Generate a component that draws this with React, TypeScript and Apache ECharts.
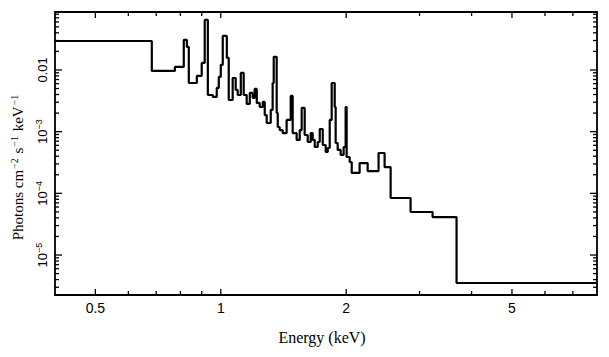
import React, { useEffect, useRef } from 'react';
import * as echarts from 'echarts';

// Axis ranges (keV, photons cm^-2 s^-1 keV^-1)
const X_MIN = 0.4;
const X_MAX = 8.0;
const Y_MIN = 2.25e-6;
const Y_MAX = 0.087;

// Bin edges (keV): left edges of every bin plus the final right edge
const binEdges = [
  0.400, 0.683, 0.776, 0.815, 0.829, 0.838, 0.876, 0.900, 0.915, 0.931,
  0.957, 0.978, 0.989, 1.000, 1.011, 1.034, 1.045, 1.068, 1.086, 1.098,
  1.117, 1.135, 1.154, 1.174, 1.193, 1.206, 1.220, 1.240, 1.261, 1.275,
  1.289, 1.318, 1.332, 1.340, 1.362, 1.370, 1.385, 1.408, 1.439, 1.472,
  1.488, 1.521, 1.547, 1.564, 1.590, 1.617, 1.644, 1.662, 1.681, 1.709,
  1.728, 1.757, 1.786, 1.806, 1.826, 1.846, 1.877, 1.887, 1.908, 1.940,
  1.972, 1.994, 2.005, 2.039, 2.062, 2.154, 2.252, 2.392, 2.473, 2.557,
  2.855, 3.224, 3.681, 8.0,
];

// Model flux in each bin
const binFlux = [
  0.0295, 0.00964, 0.0112, 0.0307, 0.0236, 0.00615, 0.0080, 0.0130, 0.0647, 0.00393,
  0.00365, 0.00511, 0.0077, 0.0121, 0.0356, 0.0157, 0.00326, 0.00741, 0.00474, 0.00393,
  0.00894, 0.00393, 0.00281, 0.00424, 0.00352, 0.00492, 0.00292, 0.00251, 0.00303, 0.00186,
  0.00138, 0.00225, 0.00615, 0.0163, 0.00201, 0.00119, 0.00106, 0.00095, 0.00155, 0.00379,
  0.00095, 0.000733, 0.00106, 0.00242, 0.000883, 0.00068, 0.00095, 0.000733, 0.000564, 0.00068,
  0.0011, 0.000608, 0.000468, 0.000543, 0.00155, 0.00615, 0.00251, 0.000655, 0.000505, 0.000419,
  0.000564, 0.00251, 0.000388, 0.000322, 0.000214, 0.00031, 0.00023, 0.000451, 0.000267, 8.41e-5,
  4.98e-5, 4.13e-5, 3.52e-6,
];

// Tick definitions
const xMajorTicks = [0.5, 1, 2, 5];
const xTickLabels = ['0.5', '1', '2', '5'];
const xMinorTicks = [0.6, 0.7, 0.8, 0.9, 3, 4, 6, 7];

const yMajorTicks = [1e-5, 1e-4, 1e-3, 1e-2];
const yTickBases = ['10', '10', '10', '0.01'];
const yTickExponents = ['−5', '−4', '−3', ''];
const yMinorMultipliers = [2, 3, 4, 5, 6, 7, 8, 9];
const yDecades = [1e-6, 1e-5, 1e-4, 1e-3, 1e-2];

const X_TITLE = 'Energy (keV)';
const Y_TITLE_PARTS = ['Photons cm', '−2', ' s', '−1', ' keV', '−1'];

const SANS = '"Liberation Sans", Arial, Helvetica, sans-serif';
const SERIF = '"Liberation Serif", "Times New Roman", Times, serif';

export default function App() {
  const ref = useRef<HTMLDivElement>(null);

  useEffect(() => {
    if (!ref.current) return;
    const chart = echarts.init(ref.current, undefined, { renderer: 'svg' });

    const stepData: number[][] = binFlux.map((f, i) => [binEdges[i], f]);
    stepData.push([binEdges[binEdges.length - 1], binFlux[binFlux.length - 1]]);

    const xTickItems = [
      ...xMajorTicks.map((v, i) => ({ v, major: true, label: xTickLabels[i] })),
      ...xMinorTicks.map((v) => ({ v, major: false, label: '' })),
    ];

    const yTickItems: { v: number; major: boolean; base: string; exp: string }[] = [];
    yMajorTicks.forEach((v, i) =>
      yTickItems.push({ v, major: true, base: yTickBases[i], exp: yTickExponents[i] })
    );
    yDecades.forEach((d) =>
      yMinorMultipliers.forEach((m) => {
        const v = d * m;
        if (v > Y_MIN && v < Y_MAX) yTickItems.push({ v, major: false, base: '', exp: '' });
      })
    );

    const tickStyle = { stroke: '#000', lineWidth: 1.3 };

    const yTitleRich = Y_TITLE_PARTS.map((p, i) => (i % 2 === 0 ? `{t|${p}}` : `{s|${p}}`)).join('');

    chart.setOption({
      animation: false,
      backgroundColor: '#fff',
      grid: {
        left: 55,
        right: 12,
        top: 12,
        bottom: 62,
        show: true,
        borderColor: '#000',
        borderWidth: 1.8,
        backgroundColor: 'transparent',
      },
      xAxis: {
        type: 'log',
        logBase: 10,
        min: X_MIN,
        max: X_MAX,
        axisLine: { show: false },
        axisTick: { show: false },
        axisLabel: { show: false },
        splitLine: { show: false },
      },
      yAxis: {
        type: 'log',
        logBase: 10,
        min: Y_MIN,
        max: Y_MAX,
        axisLine: { show: false },
        axisTick: { show: false },
        axisLabel: { show: false },
        splitLine: { show: false },
      },
      graphic: [
        {
          type: 'text',
          x: 322,
          y: 337,
          style: {
            text: X_TITLE,
            fill: '#000',
            fontSize: 16,
            fontFamily: SERIF,
            align: 'center',
            verticalAlign: 'middle',
          },
        },
        {
          type: 'text',
          x: 18,
          y: 167,
          rotation: Math.PI / 2,
          style: {
            text: yTitleRich,
            align: 'center',
            verticalAlign: 'middle',
            rich: {
              t: { fontSize: 15, fontFamily: SERIF, fill: '#000', lineHeight: 18 },
              s: { fontSize: 10, fontFamily: SERIF, fill: '#000', lineHeight: 10, verticalAlign: 'top', padding: [0, 1, 0, 1] },
            },
          },
        },
      ],
      series: [
        {
          type: 'line',
          step: 'end',
          data: stepData,
          showSymbol: false,
          symbol: 'none',
          lineStyle: { color: '#000', width: 2.2 },
          clip: true,
          z: 3,
        },
        {
          type: 'custom',
          coordinateSystem: 'cartesian2d',
          clip: false,
          silent: true,
          z: 4,
          data: xTickItems.map((t) => [t.v, Y_MIN]),
          renderItem: (params: any, api: any) => {
            const t = xTickItems[params.dataIndex];
            const cs = params.coordSys;
            const px = api.coord([t.v, Y_MIN])[0];
            const top = cs.y;
            const bottom = cs.y + cs.height;
            const len = t.major ? 6 : 4;
            const children: any[] = [
              { type: 'line', shape: { x1: px, y1: bottom, x2: px, y2: bottom - len }, style: tickStyle },
              { type: 'line', shape: { x1: px, y1: top, x2: px, y2: top + len }, style: tickStyle },
            ];
            if (t.label) {
              children.push({
                type: 'text',
                x: px,
                y: bottom + 13,
                style: {
                  text: t.label,
                  fill: '#000',
                  fontSize: 14,
                  fontFamily: SANS,
                  align: 'center',
                  verticalAlign: 'middle',
                },
              });
            }
            return { type: 'group', children };
          },
        },
        {
          type: 'custom',
          coordinateSystem: 'cartesian2d',
          clip: false,
          silent: true,
          z: 4,
          data: yTickItems.map((t) => [X_MIN, t.v]),
          renderItem: (params: any, api: any) => {
            const t = yTickItems[params.dataIndex];
            const cs = params.coordSys;
            const py = api.coord([X_MIN, t.v])[1];
            const left = cs.x;
            const right = cs.x + cs.width;
            const len = t.major ? 7 : 4;
            const children: any[] = [
              { type: 'line', shape: { x1: left, y1: py, x2: left + len, y2: py }, style: tickStyle },
              { type: 'line', shape: { x1: right, y1: py, x2: right - len, y2: py }, style: tickStyle },
            ];
            if (t.major) {
              const txt = t.exp ? `{b|${t.base}}{s|${t.exp}}` : `{b|${t.base}}`;
              children.push({
                type: 'text',
                x: left - 13,
                y: py,
                rotation: Math.PI / 2,
                style: {
                  text: txt,
                  align: 'center',
                  verticalAlign: 'middle',
                  rich: {
                    b: { fontSize: 13, fontFamily: SANS, fill: '#000', lineHeight: 16 },
                    s: { fontSize: 9, fontFamily: SANS, fill: '#000', lineHeight: 9, verticalAlign: 'top' },
                  },
                },
              });
            }
            return { type: 'group', children };
          },
        },
      ],
    });

    return () => chart.dispose();
  }, []);

  return (
    <div
      ref={ref}
      style={{ position: 'fixed', left: 0, top: 0, width: 609, height: 357 }}
    />
  );
}
